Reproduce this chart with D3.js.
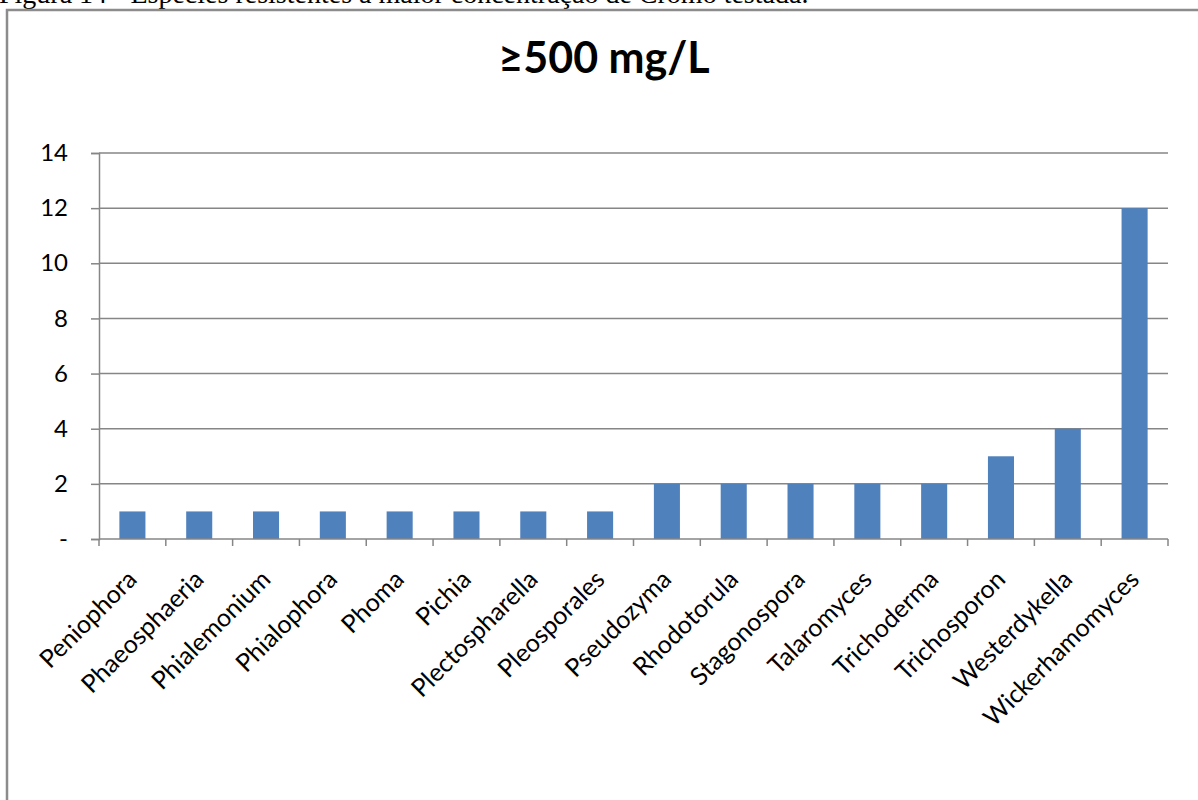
<!DOCTYPE html>
<html>
<head>
<meta charset="utf-8">
<script src="https://cdn.jsdelivr.net/npm/d3@7"></script>
<style>
  html, body { margin: 0; padding: 0; background: #fff; }
  svg { display: block; }
</style>
</head>
<body>
<svg id="chart" width="1198" height="800"></svg>
<script>
// Genera and number of resistant isolates
const categories = ["Peniophora", "Phaeosphaeria", "Phialemonium", "Phialophora", "Phoma", "Pichia",
  "Plectospharella", "Pleosporales", "Pseudozyma", "Rhodotorula", "Stagonospora", "Talaromyces",
  "Trichoderma", "Trichosporon", "Westerdykella", "Wickerhamomyces"];
const values = [1, 1, 1, 1, 1, 1, 1, 1, 2, 2, 2, 2, 2, 3, 4, 12];
const yTicks = [0, 2, 4, 6, 8, 10, 12, 14];
const yTickLabels = ["-", "2", "4", "6", "8", "10", "12", "14"];
const title = "≥500 mg/L";
const caption = "Figura 14 - Espécies resistentes à maior concentração de Cromo testada.";

const svg = d3.select("#chart");
const font = "Lato, 'Open Sans', sans-serif";

// caption line above the chart frame
svg.append("text")
  .attr("x", -1).attr("y", 3)
  .attr("font-family", "'Liberation Serif', 'Times New Roman', serif")
  .attr("font-size", 28)
  .attr("fill", "#000")
  .text(caption);

// chart frame
svg.append("rect")
  .attr("x", 7).attr("y", 10)
  .attr("width", 1300).attr("height", 900)
  .attr("fill", "#fff")
  .attr("stroke", "#8c8c8c").attr("stroke-width", 2.5);

const plot = { left: 99, right: 1168, top: 153, bottom: 539 };

const x = d3.scaleBand().domain(categories).range([plot.left, plot.right]).paddingInner(0.61).paddingOuter(0.305);
const xOuter = d3.scaleBand().domain(categories).range([plot.left, plot.right]);
const y = d3.scaleLinear().domain([0, 14]).range([plot.bottom, plot.top]);

// title
svg.append("text")
  .attr("x", 604).attr("y", 73)
  .attr("text-anchor", "middle")
  .attr("font-family", font)
  .attr("font-weight", "bold")
  .attr("font-size", 43)
  .attr("fill", "#000")
  .text(title);

// horizontal gridlines
svg.append("g")
  .selectAll("line")
  .data(yTicks.filter(d => d > 0))
  .join("line")
  .attr("x1", plot.left).attr("x2", plot.right)
  .attr("y1", d => y(d)).attr("y2", d => y(d))
  .attr("stroke", "#868686").attr("stroke-width", 1.5);

// y axis
const yAxis = d3.axisLeft(y).tickValues(yTicks)
  .tickFormat((d, i) => yTickLabels[i]).tickSize(8).tickPadding(23);
const gy = svg.append("g").attr("transform", `translate(${plot.left},0)`).call(yAxis);
gy.select(".domain").attr("stroke", "#868686").attr("stroke-width", 1.5);
gy.selectAll(".tick line").attr("stroke", "#868686").attr("stroke-width", 1.5);
gy.selectAll(".tick text").attr("font-family", font).attr("font-size", 24).attr("fill", "#000");

// bars
svg.append("g")
  .selectAll("rect")
  .data(values)
  .join("rect")
  .attr("x", (d, i) => x(categories[i]))
  .attr("width", x.bandwidth())
  .attr("y", d => y(d))
  .attr("height", d => y(0) - y(d))
  .attr("fill", "#4F81BD");

// x axis baseline and category boundary ticks
const gx = svg.append("g");
gx.append("line")
  .attr("x1", plot.left).attr("x2", plot.right)
  .attr("y1", plot.bottom).attr("y2", plot.bottom)
  .attr("stroke", "#868686").attr("stroke-width", 1.5);
const boundaries = categories.map(c => xOuter(c)).concat([plot.right]);
gx.selectAll("line.tick")
  .data(boundaries)
  .join("line")
  .attr("class", "tick")
  .attr("x1", d => d).attr("x2", d => d)
  .attr("y1", plot.bottom).attr("y2", plot.bottom + 7)
  .attr("stroke", "#868686").attr("stroke-width", 1.5);

// rotated category labels
gx.selectAll("text")
  .data(categories)
  .join("text")
  .attr("transform", c => `translate(${xOuter(c) + xOuter.bandwidth() / 2 + 6},${plot.bottom + 42}) rotate(-45)`)
  .attr("text-anchor", "end")
  .attr("font-family", font)
  .attr("font-size", 25)
  .attr("fill", "#000")
  .text(c => c);
</script>
</body>
</html>
